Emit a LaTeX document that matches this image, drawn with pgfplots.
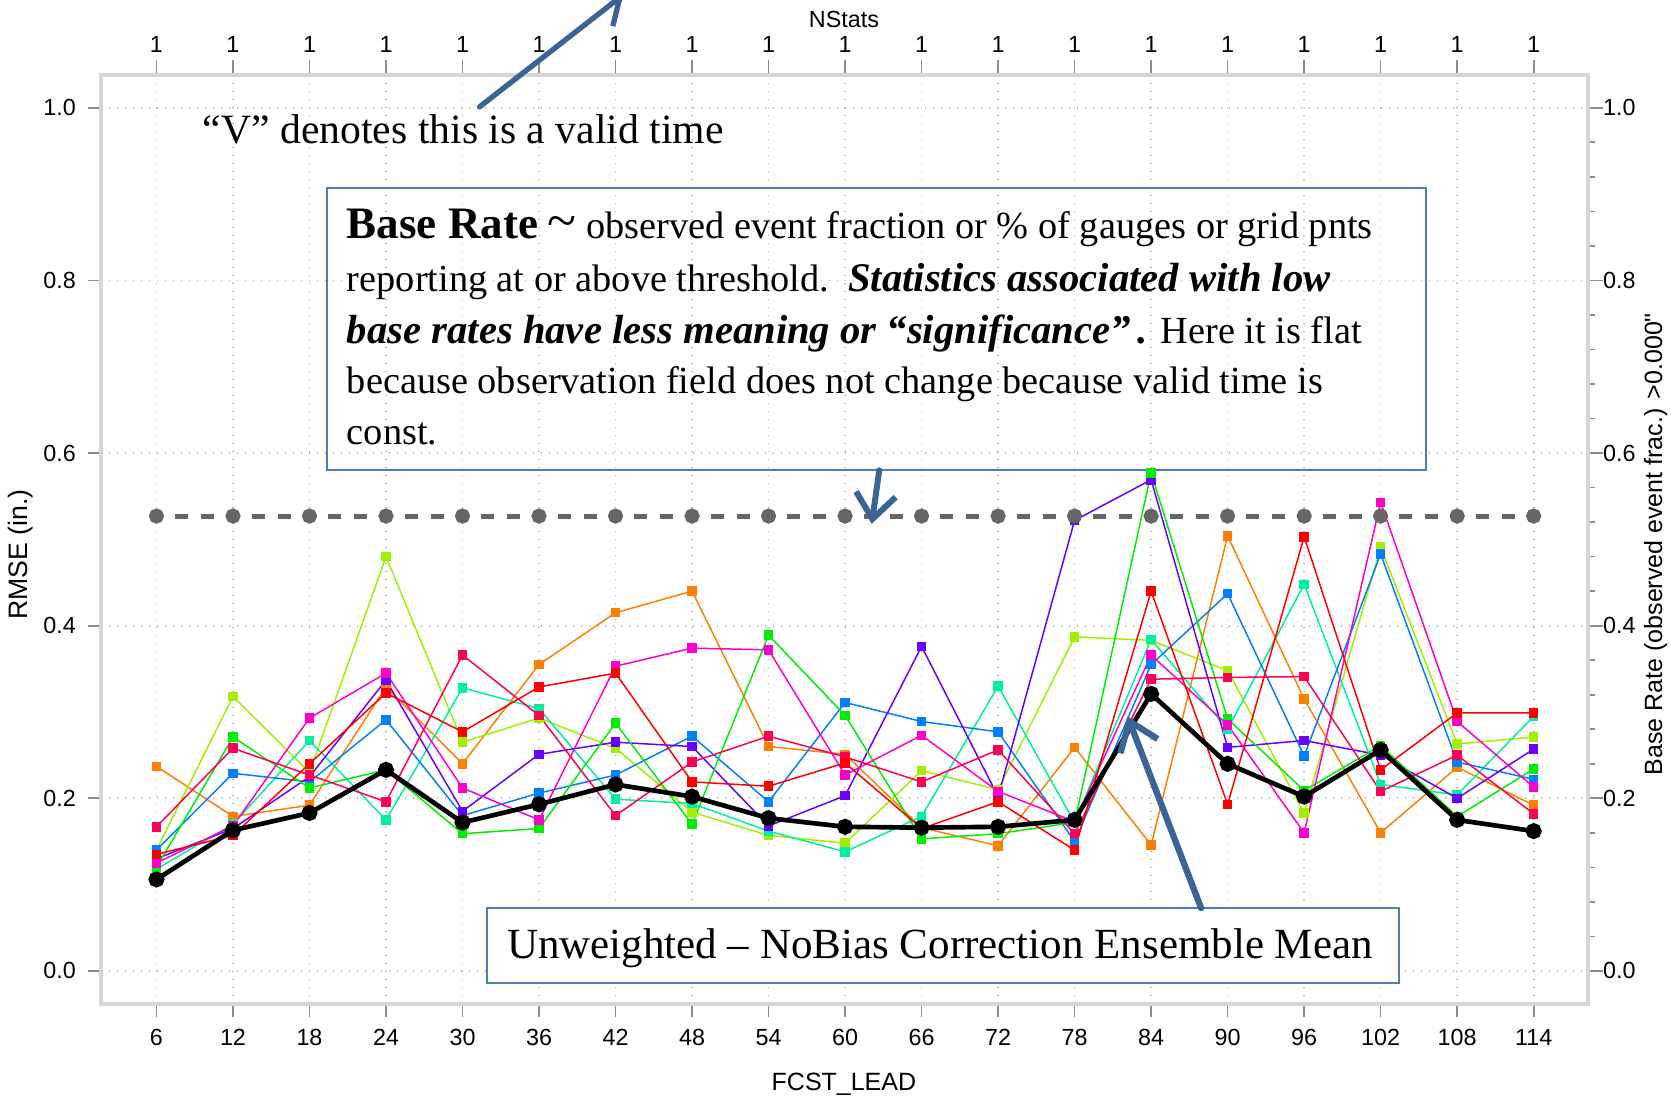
\documentclass[border=0pt]{standalone}
\usepackage{fontspec}
\setmainfont{Liberation Serif}
\newfontfamily\tickfont{Liberation Sans}
\usepackage{pgfplots}
\usepackage{pgfplotstable}
\pgfplotsset{compat=1.18}
\usetikzlibrary{arrows.meta}

\definecolor{cRed}{HTML}{FF0000}
\definecolor{cOrange}{HTML}{FF8000}
\definecolor{cLime}{HTML}{A0F000}
\definecolor{cGreen}{HTML}{00EE00}
\definecolor{cAqua}{HTML}{00F0A0}
\definecolor{cBlue}{HTML}{0080FF}
\definecolor{cViolet}{HTML}{6A00FF}
\definecolor{cMagenta}{HTML}{FF00CC}
\definecolor{cRose}{HTML}{FF0055}
\definecolor{cGray}{HTML}{666666}
\definecolor{arrowBlue}{HTML}{3B6496}
\definecolor{boxBlue}{HTML}{4F7CBB}

% RMSE per ensemble member, ensemble mean and base rate
\pgfplotstableread{
x   red   orange lime  green aqua  blue  violet magenta rose  mean  base
6   0.135 0.237  0.140 0.120 0.118 0.140 0.130  0.125   0.167 0.106 0.527
12  0.157 0.179  0.318 0.271 0.170 0.229 0.165  0.168   0.258 0.163 0.527
18  0.240 0.192  0.230 0.212 0.267 0.219 0.225  0.293   0.227 0.183 0.527
24  0.322 0.329  0.480 0.233 0.175 0.291 0.337  0.345   0.196 0.233 0.527
30  0.277 0.240  0.265 0.159 0.328 0.180 0.185  0.212   0.366 0.172 0.527
36  0.329 0.355  0.293 0.165 0.304 0.206 0.251  0.175   0.296 0.193 0.527
42  0.345 0.415  0.258 0.287 0.199 0.227 0.265  0.353   0.180 0.216 0.527
48  0.219 0.440  0.184 0.170 0.194 0.272 0.260  0.374   0.242 0.202 0.527
54  0.214 0.260  0.157 0.389 0.162 0.196 0.168  0.372   0.272 0.177 0.527
60  0.241 0.251  0.148 0.296 0.138 0.311 0.203  0.227   0.248 0.167 0.527
66  0.165 0.166  0.232 0.153 0.179 0.289 0.376  0.273   0.219 0.166 0.527
72  0.196 0.145  0.210 0.159 0.330 0.277 0.202  0.208   0.256 0.167 0.527
78  0.140 0.259  0.387 0.172 0.172 0.150 0.522  0.173   0.159 0.175 0.527
84  0.440 0.146  0.383 0.577 0.384 0.355 0.569  0.366   0.338 0.321 0.527
90  0.193 0.504  0.348 0.292 0.280 0.437 0.259  0.285   0.340 0.240 0.527
96  0.503 0.315  0.183 0.209 0.448 0.249 0.267  0.160   0.341 0.202 0.527
102 0.233 0.160  0.491 0.261 0.216 0.483 0.250  0.543   0.208 0.256 0.527
108 0.299 0.236  0.263 0.179 0.204 0.242 0.200  0.289   0.250 0.175 0.527
114 0.299 0.192  0.271 0.234 0.295 0.222 0.257  0.213   0.182 0.162 0.527
}\data

\pgfplotsset{
  member/.style={#1, line width=0.45pt, mark=square*, mark size=1.2pt},
  frame/.style={scale only axis, at={(0,0)}, anchor=south west,
    width=446.1pt, height=278.7pt,
    xmin=1.65, xmax=118.26, ymin=-0.0383, ymax=1.038,
    xtick={6,12,...,114}, ytick={0,0.2,0.4,0.6,0.8,1.0},
    tick align=outside,
    tick style={black!45, line width=0.5pt},
    tick label style={font=\tickfont\fontsize{7}{8}\selectfont},
    /pgf/number format/assume math mode=true,
    yticklabel style={/pgf/number format/fixed, /pgf/number format/fixed zerofill,
      /pgf/number format/precision=1}},
}

\begin{document}
\begin{tikzpicture}
\useasboundingbox (-30.3pt,-28.2pt) rectangle (471pt,301.2pt);

% top (NStats) and right (base rate) axes
\begin{axis}[frame,
  axis line style={draw=none},
  xtick pos=right, xticklabel pos=right,
  xticklabels={1,1,1,1,1,1,1,1,1,1,1,1,1,1,1,1,1,1,1},
  xticklabel style={yshift=-1.3pt},
  major tick length=4.5pt,
  ytick pos=right, yticklabel pos=right,
  yticklabel style={xshift=-3.5pt},
  minor y tick num=4, minor tick length=2pt,
]
\addplot[draw=none] coordinates {(6,0)};
\end{axis}

\begin{axis}[frame,
  axis line style={draw=black!16, line width=1pt},
  xtick pos=left, ytick pos=left,
  major tick length=4pt,
  grid=major, grid style={black!30, dotted, line width=0.5pt},
  clip=false,
]
\addplot[member=cOrange]  table[x=x,y=orange]{\data};
\addplot[member=cLime]    table[x=x,y=lime]{\data};
\addplot[member=cAqua]    table[x=x,y=aqua]{\data};
\addplot[member=cBlue]    table[x=x,y=blue]{\data};
\addplot[member=cViolet]  table[x=x,y=violet]{\data};
\addplot[member=cGreen]   table[x=x,y=green]{\data};
\addplot[member=cMagenta] table[x=x,y=magenta]{\data};
\addplot[member=cRose]    table[x=x,y=rose]{\data};
\addplot[member=cRed]     table[x=x,y=red]{\data};
\addplot[black, line width=1.4pt, mark=*, mark size=1.7pt] table[x=x,y=mean]{\data};
\addplot[cGray, line width=1.5pt, dash pattern=on 3.9pt off 3.9pt on 3.9pt off 11.25pt,
  dash phase=17.35pt, mark=*, mark size=1.5pt, mark options={solid}] table[x=x,y=base]{\data};

% axis titles
\node[font=\tickfont\fontsize{7.5}{9}\selectfont] at (axis description cs:0.4996,-0.086) {FCST\_LEAD};
\node[font=\tickfont\fontsize{7}{9}\selectfont] at (axis description cs:0.4996,1.0596) {NStats};
\node[rotate=90, font=\tickfont\fontsize{8}{9}\selectfont] at (axis description cs:-0.0538,0.484) {RMSE (in.)};
\node[rotate=90, font=\tickfont\fontsize{7.5}{9}\selectfont] at (axis description cs:1.0455,0.495) {Base Rate (observed event frac.) >0.000"};

% annotations
\node[anchor=mid west, inner sep=0pt, font=\fontsize{12.5}{14}\selectfont] at (axis cs:9.59,0.968) {“V” denotes this is a valid time};
\draw[arrowBlue, line width=1.6pt, line cap=round,
  -{Straight Barb[length=7pt,width=11pt,line width=1.6pt]}] (axis cs:31.33,1.001) -- (axis cs:42.61,1.131);

\draw[boxBlue, line width=0.6pt] (axis cs:19.37,0.907) rectangle (axis cs:105.56,0.580);
\begin{scope}[every node/.style={anchor=mid west, inner sep=0pt, font=\fontsize{11.5}{13}\selectfont}]
\node at (axis cs:20.88,0.857) {{\bfseries\fontsize{13.5}{15}\selectfont Base Rate} {\fontsize{16}{16}\selectfont\textasciitilde} observed event fraction or \% of gauges or grid pnts};
\node at (axis cs:20.88,0.796) {reporting at or above threshold.\ \ {\fontsize{12.2}{13}\selectfont\textbf{\textit{Statistics associated with low}}}};
\node at (axis cs:20.88,0.736) {{\fontsize{12.2}{13}\selectfont\textbf{\textit{base rates have less meaning or “significance”\,.}}} Here it is flat};
\node at (axis cs:20.88,0.678) {because observation field does not change because valid time is};
\node at (axis cs:20.88,0.619) {const.};
\end{scope}
\draw[arrowBlue, line width=1.8pt, line cap=round,
  -{Straight Barb[length=7.5pt,width=12pt,line width=1.8pt]}] (axis cs:62.68,0.580) -- (axis cs:62.09,0.518);

\draw[boxBlue, line width=0.6pt, fill=white] (axis cs:31.91,0.0728) rectangle (axis cs:103.47,-0.0136);
\node[font=\fontsize{12.9}{15}\selectfont] at (axis cs:67.44,0.026) {Unweighted – NoBias Correction Ensemble Mean};
\draw[arrowBlue, line width=1.9pt, line cap=round,
  -{Straight Barb[length=8pt,width=12pt,line width=1.9pt]}] (axis cs:87.92,0.0728) -- (axis cs:82.15,0.295);
\end{axis}
\end{tikzpicture}
\end{document}
